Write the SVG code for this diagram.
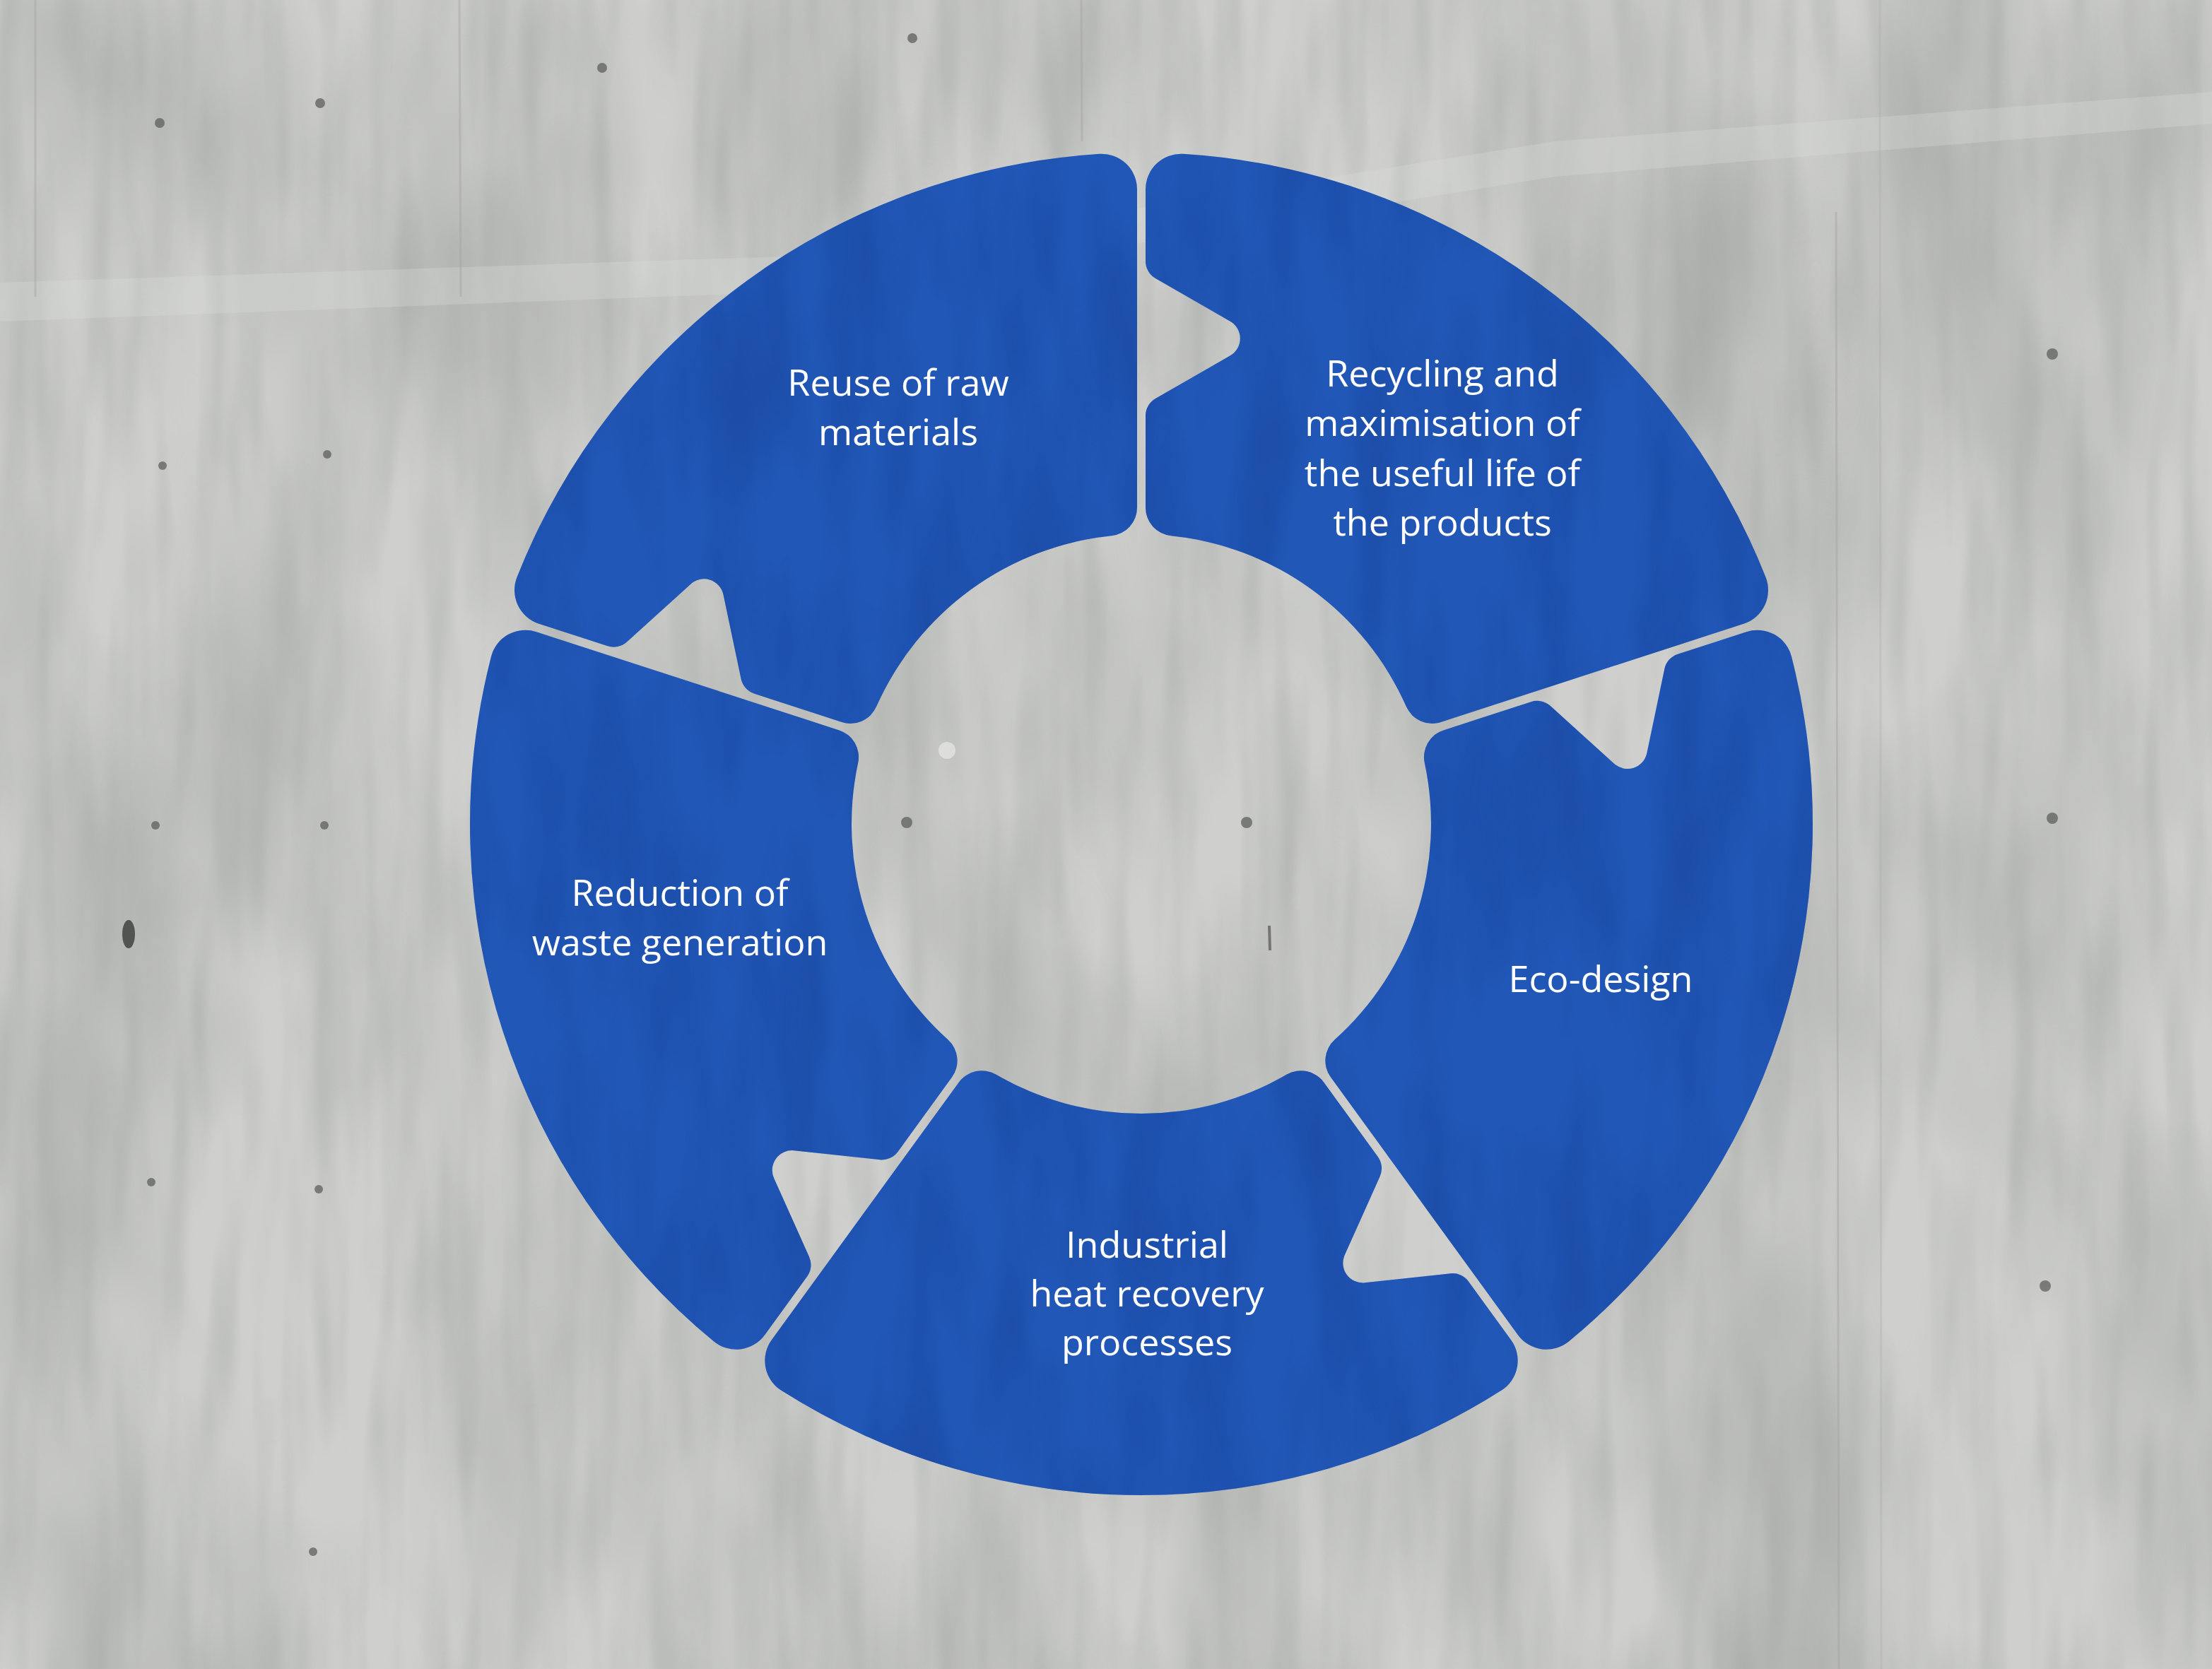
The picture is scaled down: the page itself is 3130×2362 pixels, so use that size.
<svg xmlns="http://www.w3.org/2000/svg" xmlns:xlink="http://www.w3.org/1999/xlink" width="3130" height="2362" viewBox="0 0 3130 2362">
  <style>
    .seg { fill: #2157b7; }
    .lbl { fill: #ffffff; font-family: "Open Sans", "Noto Sans", "Liberation Sans", sans-serif; font-size: 52px; text-anchor: middle; }
    .seam { stroke: #a3a4a2; stroke-width: 3; opacity: 0.45; fill: none; }
    .dot { fill: #5e5f5d; opacity: 0.75; }
  </style>
  <defs>
    <path id="seg" d="M 6 -898.26 A 50 50 0 0 1 59.11 -948.16 A 950 950 0 0 1 883.49 -349.22 A 50 50 0 0 1 852.45 -283.29 L 423.87 -144.04 A 40 40 0 0 1 374.94 -165.89 A 410 410 0 0 0 41.91 -407.85 A 40 40 0 0 1 6 -447.64 L 6 -577.8 A 28 28 0 0 1 20.07 -602.1 L 125.7 -662.7 A 28 28 0 0 0 125.7 -711.3 L 20.07 -771.9 A 28 28 0 0 1 6 -796.2 Z"/>
    <filter id="concrete" filterUnits="userSpaceOnUse" x="0" y="0" width="3130" height="2362" color-interpolation-filters="sRGB">
      <feTurbulence type="fractalNoise" baseFrequency="0.003 0.0014" numOctaves="4" seed="7" result="t"/>
      <feColorMatrix in="t" type="matrix" values="0 0 0 0 0.6  0 0 0 0 0.61  0 0 0 0 0.6  1.2 0 0 0 -0.45"/>
    </filter>
    <filter id="grain" filterUnits="userSpaceOnUse" x="0" y="0" width="3130" height="2362" color-interpolation-filters="sRGB">
      <feTurbulence type="fractalNoise" baseFrequency="0.025 0.003" numOctaves="2" seed="11" result="g"/>
      <feColorMatrix in="g" type="matrix" values="0 0 0 0 0.62  0 0 0 0 0.63  0 0 0 0 0.62  0.8 0 0 0 -0.34"/>
    </filter>
    <filter id="bluetex" x="-5%" y="-5%" width="110%" height="110%" color-interpolation-filters="sRGB">
      <feTurbulence type="fractalNoise" baseFrequency="0.012 0.003" numOctaves="3" seed="3" result="n"/>
      <feColorMatrix in="n" type="matrix" values="0 0 0 0 0.09  0 0 0 0 0.26  0 0 0 0 0.6  1.1 0 0 0 -0.42" result="dark"/>
      <feComposite in="dark" in2="SourceGraphic" operator="in" result="darkIn"/>
      <feMerge>
        <feMergeNode in="SourceGraphic"/>
        <feMergeNode in="darkIn"/>
      </feMerge>
    </filter>
  </defs>

  <g id="background">
    <rect x="0" y="0" width="3130" height="2362" fill="#cfd0ce"/>
    <rect x="0" y="0" width="3130" height="2362" fill="#000" filter="url(#concrete)"/>
    <rect x="0" y="0" width="3130" height="2362" fill="#000" filter="url(#grain)"/>
    <path d="M 0 400 L 1200 360 L 2200 200 L 3130 130 L 3130 175 L 2200 250 L 1200 410 L 0 455 Z" fill="#dcdddb" opacity="0.3"/>
    <line class="seam" x1="50" y1="0" x2="50" y2="420"/>
    <line class="seam" x1="650" y1="0" x2="652" y2="420"/>
    <line class="seam" x1="1530" y1="0" x2="1531" y2="200"/>
    <line class="seam" x1="2598" y1="300" x2="2602" y2="2362"/>
    <line class="seam" x1="2660" y1="0" x2="2662" y2="2362" style="opacity:0.25"/>
    <circle class="dot" cx="226" cy="174" r="7"/>
    <circle class="dot" cx="453" cy="146" r="7"/>
    <circle class="dot" cx="852" cy="96" r="7"/>
    <circle class="dot" cx="1291" cy="54" r="7"/>
    <circle class="dot" cx="2904" cy="501" r="8"/>
    <circle class="dot" cx="2904" cy="1158" r="8"/>
    <circle class="dot" cx="2894" cy="1820" r="8"/>
    <circle class="dot" cx="230" cy="659" r="6"/>
    <circle class="dot" cx="463" cy="643" r="6"/>
    <circle class="dot" cx="220" cy="1168" r="6"/>
    <circle class="dot" cx="459" cy="1168" r="6"/>
    <circle class="dot" cx="214" cy="1673" r="6"/>
    <circle class="dot" cx="451" cy="1683" r="6"/>
    <circle class="dot" cx="443" cy="2196" r="6"/>
    <circle class="dot" cx="1283" cy="1164" r="8"/>
    <circle class="dot" cx="1764" cy="1164" r="8"/>
    <ellipse cx="182" cy="1322" rx="9" ry="20" fill="#3a3b3a" opacity="0.8"/>
    <line x1="1796" y1="1310" x2="1797" y2="1345" stroke="#555" stroke-width="4" opacity="0.7"/>
    <circle cx="1340" cy="1062" r="12" fill="#eeeeec" opacity="0.6"/>
  </g>

  <g id="connectors"></g>

  <g id="node-recycling">
    <g filter="url(#bluetex)"><use href="#seg" xlink:href="#seg" class="seg" transform="translate(1615 1166)"/></g>
    <text class="lbl" x="2041" y="547">Recycling and</text>
    <text class="lbl" x="2041" y="617">maximisation of</text>
    <text class="lbl" x="2041" y="688">the useful life of</text>
    <text class="lbl" x="2041" y="758">the products</text>
  </g>

  <g id="node-ecodesign">
    <g filter="url(#bluetex)"><use href="#seg" xlink:href="#seg" class="seg" transform="translate(1615 1166) rotate(72)"/></g>
    <text class="lbl" x="2265" y="1404">Eco-design</text>
  </g>

  <g id="node-industrial">
    <g filter="url(#bluetex)"><use href="#seg" xlink:href="#seg" class="seg" transform="translate(1615 1166) rotate(144)"/></g>
    <text class="lbl" x="1623" y="1780">Industrial</text>
    <text class="lbl" x="1623" y="1849">heat recovery</text>
    <text class="lbl" x="1623" y="1918">processes</text>
  </g>

  <g id="node-reduction">
    <g filter="url(#bluetex)"><use href="#seg" xlink:href="#seg" class="seg" transform="translate(1615 1166) rotate(216)"/></g>
    <text class="lbl" x="962" y="1282">Reduction of</text>
    <text class="lbl" x="962" y="1352">waste generation</text>
  </g>

  <g id="node-reuse">
    <g filter="url(#bluetex)"><use href="#seg" xlink:href="#seg" class="seg" transform="translate(1615 1166) rotate(288)"/></g>
    <text class="lbl" x="1271" y="560">Reuse of raw</text>
    <text class="lbl" x="1271" y="630">materials</text>
  </g>
</svg>
